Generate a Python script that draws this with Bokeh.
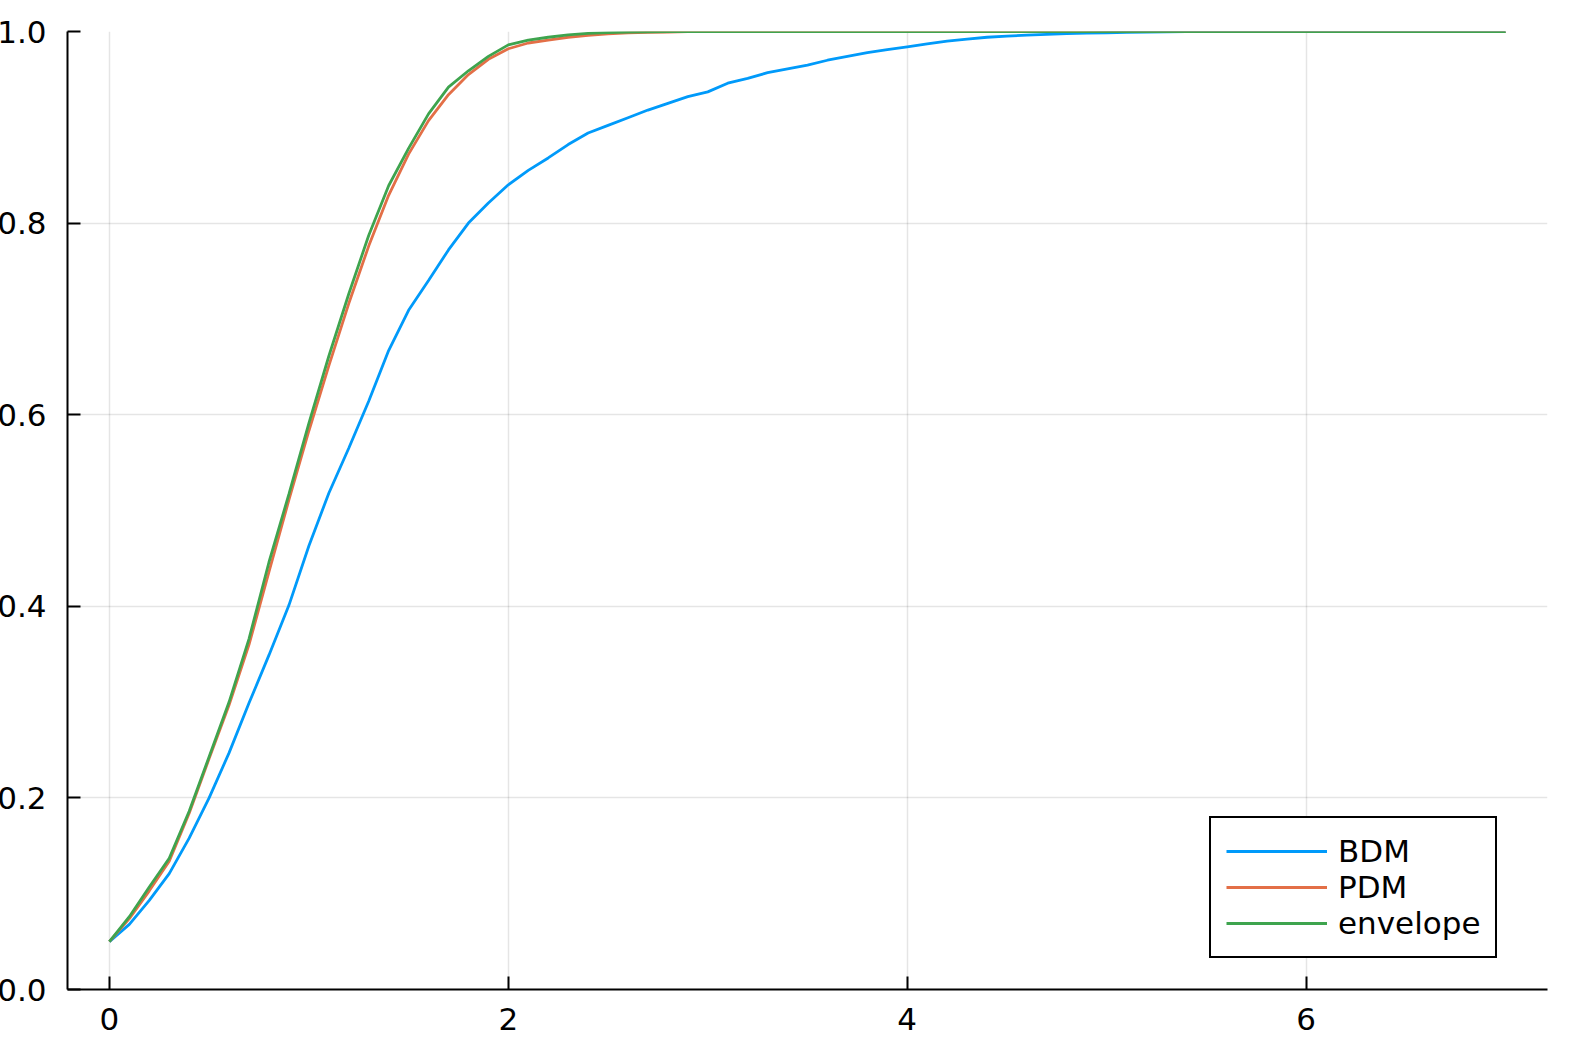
from bokeh.plotting import figure
from bokeh.models import Range1d, FixedTicker, PrintfTickFormatter, Legend, LegendItem
from bokeh.embed import file_html
from bokeh.resources import INLINE

xs = [0.0, 0.1, 0.2, 0.3, 0.4, 0.5, 0.6, 0.7, 0.8, 0.9,
      1.0, 1.1, 1.2, 1.3, 1.4, 1.5, 1.6, 1.7, 1.8, 1.9,
      2.0, 2.1, 2.2, 2.3, 2.4, 2.5, 2.6, 2.7, 2.8, 2.9,
      3.0, 3.1, 3.2, 3.3, 3.4, 3.5, 3.6, 3.7, 3.8, 3.9,
      4.0, 4.1, 4.2, 4.3, 4.4, 4.5, 4.6, 4.7, 4.8, 4.9,
      5.0, 5.1, 5.2, 5.3, 5.4, 5.5, 5.6, 5.7, 5.8, 5.9,
      6.0, 6.1, 6.2, 6.3, 6.4, 6.5, 6.6, 6.7, 6.8, 6.9,
      7.0]

bdm = [0.050, 0.068, 0.093, 0.121, 0.158, 0.200, 0.247, 0.299, 0.349, 0.401,
       0.463, 0.518, 0.565, 0.614, 0.667, 0.709, 0.740, 0.772, 0.800, 0.821,
       0.840, 0.855, 0.868, 0.882, 0.894, 0.902, 0.910, 0.918, 0.925, 0.932,
       0.937, 0.946, 0.951, 0.957, 0.961, 0.965, 0.970, 0.974, 0.978, 0.981,
       0.984, 0.987, 0.990, 0.992, 0.994, 0.9952, 0.9962, 0.9971, 0.9978, 0.9983,
       0.9987, 0.9991, 0.9994, 0.9996, 0.9998, 0.9999, 1.0, 1.0, 1.0, 1.0,
       1.0, 1.0, 1.0, 1.0, 1.0, 1.0, 1.0, 1.0, 1.0, 1.0,
       1.0]

pdm = [0.050, 0.074, 0.103, 0.134, 0.184, 0.241, 0.297, 0.360, 0.436, 0.511,
       0.583, 0.651, 0.716, 0.776, 0.829, 0.872, 0.907, 0.934, 0.955, 0.971,
       0.982, 0.988, 0.991, 0.994, 0.996, 0.9975, 0.9985, 0.9991, 0.9995, 0.9998,
       1.0, 1.0, 1.0, 1.0, 1.0, 1.0, 1.0, 1.0, 1.0, 1.0,
       1.0, 1.0, 1.0, 1.0, 1.0, 1.0, 1.0, 1.0, 1.0, 1.0,
       1.0, 1.0, 1.0, 1.0, 1.0, 1.0, 1.0, 1.0, 1.0, 1.0,
       1.0, 1.0, 1.0, 1.0, 1.0, 1.0, 1.0, 1.0, 1.0, 1.0,
       1.0]

envelope = [0.050, 0.076, 0.107, 0.137, 0.186, 0.243, 0.300, 0.366, 0.446, 0.517,
            0.591, 0.661, 0.726, 0.787, 0.839, 0.878, 0.914, 0.942, 0.959, 0.974,
            0.986, 0.991, 0.994, 0.9965, 0.998, 0.9988, 0.9993, 0.9997, 0.9999, 1.0,
            1.0, 1.0, 1.0, 1.0, 1.0, 1.0, 1.0, 1.0, 1.0, 1.0,
            1.0, 1.0, 1.0, 1.0, 1.0, 1.0, 1.0, 1.0, 1.0, 1.0,
            1.0, 1.0, 1.0, 1.0, 1.0, 1.0, 1.0, 1.0, 1.0, 1.0,
            1.0, 1.0, 1.0, 1.0, 1.0, 1.0, 1.0, 1.0, 1.0, 1.0,
            1.0]

series_names = ["BDM", "PDM", "envelope"]
series_colors = ["#009AFA", "#E36F47", "#3EA44E"]
x_ticks = [0, 2, 4, 6]
y_ticks = [0.0, 0.2, 0.4, 0.6, 0.8, 1.0]

FONT = "DejaVu Sans"
FS = "31px"

p = figure(frame_width=1480, frame_height=958,
           x_range=Range1d(-0.21, 7.21), y_range=Range1d(0, 1),
           output_backend="svg", toolbar_location=None,
           min_border_top=31, min_border_right=20, min_border_bottom=62,
           min_border_left=10)
p.outline_line_color = None
p.background_fill_color = "white"
p.border_fill_color = "white"
p.styles = {"margin-left": "-6px"}

for ax in (p.xaxis[0], p.yaxis[0]):
    ax.axis_line_width = 2
    ax.axis_line_color = "black"
    ax.major_tick_line_width = 2
    ax.major_tick_line_color = "black"
    ax.major_tick_in = 13
    ax.major_tick_out = 0
    ax.minor_tick_line_color = None
    ax.major_label_text_font = FONT
    ax.major_label_text_font_size = FS
    ax.major_label_text_color = "black"

p.xaxis[0].ticker = FixedTicker(ticks=x_ticks)
p.yaxis[0].ticker = FixedTicker(ticks=y_ticks)
p.yaxis[0].formatter = PrintfTickFormatter(format="%.1f")
p.xaxis[0].major_label_standoff = 18
p.yaxis[0].major_label_standoff = 21

for g in (p.xgrid[0], p.ygrid[0]):
    g.grid_line_color = "black"
    g.grid_line_alpha = 0.1
    g.grid_line_width = 1.5
p.xgrid[0].ticker = FixedTicker(ticks=x_ticks)
p.ygrid[0].ticker = FixedTicker(ticks=y_ticks)

renderers = []
for ys, c in zip([bdm, pdm, envelope], series_colors):
    r = p.line(xs, ys, line_color=c, line_width=2.8)
    renderers.append(r)

legend = Legend(items=[LegendItem(label=n, renderers=[r]) for n, r in zip(series_names, renderers)],
                location=(1142, 31))
legend.border_line_color = "black"
legend.border_line_width = 2
legend.border_line_alpha = 1
legend.background_fill_color = "white"
legend.background_fill_alpha = 1
legend.padding = 15
legend.spacing = 0
legend.glyph_width = 101
legend.glyph_height = 34
legend.label_height = 34
legend.label_standoff = 11
legend.label_width = 139
legend.label_text_font = FONT
legend.label_text_font_size = FS
legend.label_text_color = "black"
legend.margin = 0
p.add_layout(legend)

open("out.html", "w").write(file_html(p, INLINE))
